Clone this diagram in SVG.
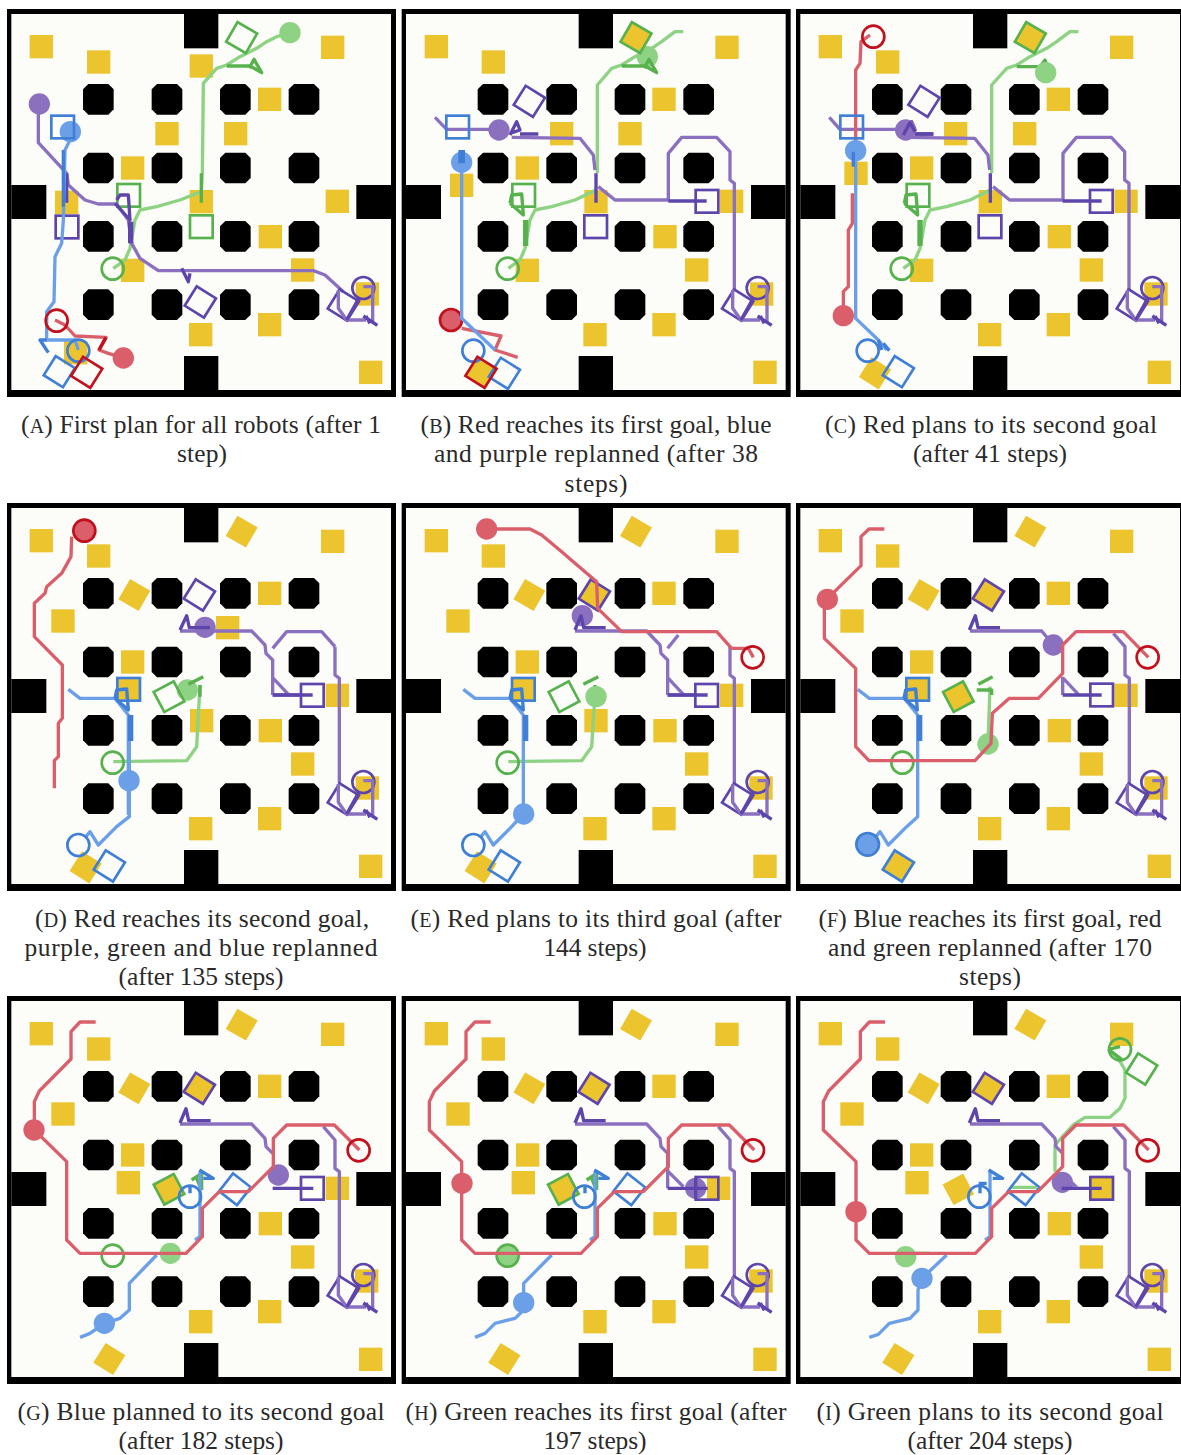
<svg xmlns="http://www.w3.org/2000/svg" width="1181" height="1455" viewBox="0 0 1181 1455">
<style>
text{font-family:"Liberation Serif","Times New Roman",serif;font-size:25.5px;fill:#2a2a2a;text-anchor:middle}
.sc{font-size:20px}
.k{fill:#000}
.y{fill:#ebc42e}
path{fill:none;stroke-linejoin:round;stroke-linecap:butt}
.gl{stroke:#8ed284;stroke-width:10}
.gd{stroke:#57b24e;stroke-width:10}
.pl{stroke:#8b70c0;stroke-width:10}
.pd{stroke:#5e45ab;stroke-width:10}
.bl{stroke:#6ba0e9;stroke-width:10}
.bd{stroke:#3f7fd6;stroke-width:10}
.rl{stroke:#da5f6b;stroke-width:10}
.rd{stroke:#c2101c;stroke-width:10}
.th{stroke-width:16}
.Og{fill:none;stroke:#57b24e;stroke-width:8}
.Op{fill:none;stroke:#5e45ab;stroke-width:8}
.Ob{fill:none;stroke:#3f7fd6;stroke-width:8}
.Or{fill:none;stroke:#c2101c;stroke-width:8}
.Fg{fill:#8ed284}.Fp{fill:#8b70c0}.Fb{fill:#6ba0e9}.Fr{fill:#da5f6b}
</style>
<defs>
<rect id="s" x="-35" y="-35" width="70" height="70"/>
<rect id="t" x="-34" y="-34" width="68" height="68"/>
<polygon id="oct" points="-30,-46 30,-46 46,-30 46,30 30,46 -30,46 -46,30 -46,-30"/>
<g id="map">
<rect x="21" y="27" width="1167" height="1164" fill="#000"/>
<rect x="34" y="42" width="1139" height="1128" fill="#fcfcf9"/>
<rect class="k" x="552" y="42" width="103" height="103"/>
<rect class="k" x="34" y="555" width="105" height="102"/>
<rect class="k" x="1069" y="555" width="104" height="102"/>
<rect class="k" x="552" y="1068" width="103" height="102"/>
<g class="k">
<use href="#oct" x="295" y="298"/><use href="#oct" x="501" y="298"/><use href="#oct" x="706" y="298"/><use href="#oct" x="912" y="298"/>
<use href="#oct" x="295" y="504"/><use href="#oct" x="501" y="504"/><use href="#oct" x="706" y="504"/><use href="#oct" x="912" y="504"/>
<use href="#oct" x="295" y="709"/><use href="#oct" x="501" y="709"/><use href="#oct" x="706" y="709"/><use href="#oct" x="912" y="709"/>
<use href="#oct" x="295" y="914"/><use href="#oct" x="501" y="914"/><use href="#oct" x="706" y="914"/><use href="#oct" x="912" y="914"/>
</g>
</g>
<g id="cluster">
<use href="#t" class="Op" transform="translate(1030 915) rotate(32)"/>
<circle class="Op" cx="1090" cy="864" r="33"/>
<path class="pl" d="M1015 870V925L1040 960H1098M1118 965V860H1090"/>
<path class="pd" d="M1040 960L1078 892M1098 948L1110 970M1090 948L1132 976"/>
</g>
<path id="greenA" class="gl" d="M870 98L830 110L800 125L770 145L720 170L680 195L650 205L610 250L607 520L604 575L540 600L470 620L420 630L405 660L390 745L375 780L340 805"/>
<path id="purpleB" class="pl" d="M350 412L555 415L595 465L600 510M610 560L660 600L820 600V460L860 412H965L1005 455V540L1018 550V870"/>
<path id="blueD" class="bl" d="M205 583L240 610H345L385 660V960"/>
<g id="blueLoop"><path class="bd" d="M345 610L350 585L380 582L385 645L345 610"/><path class="bd th" d="M392 660V738"/></g>
<g id="greenLoop"><path class="gd" d="M345 610L350 585L380 582L385 645L345 610"/><path class="gd th" d="M392 660V738"/></g>
<path id="purpleD" class="pl" d="M540 408H755L795 450L798 475L818 495V600M820 550L865 598M818 600H900M1005 455V540L1018 550V865"/>
<path id="purpleHook" class="pd" d="M540 405L558 362L566 398H632"/>
<path id="redF" class="rl" d="M283 102H237L213 125V212L103 320V430L197 520V755L237 797H555L603 745L607 655L658 610H745L818 535V450L858 410H1000L1075 487"/>
</defs>

<g id="panel-a" transform="translate(0 0) scale(.33333)">
<use href="#map"/>
<g class="y"><use href="#s" x="124" y="140"/><use href="#s" x="296" y="186"/><use href="#s" x="604" y="198"/><use href="#s" x="998" y="142"/><use href="#s" x="809" y="298"/><use href="#s" x="501" y="401"/><use href="#s" x="707" y="401"/><use href="#s" x="398" y="504"/><use href="#s" x="200" y="607"/><use href="#s" x="604" y="605"/><use href="#s" x="1012" y="604"/><use href="#s" x="811" y="710"/><use href="#s" x="398" y="811"/><use href="#s" x="908" y="810"/><use href="#s" x="1102" y="882"/><use href="#s" x="809" y="974"/><use href="#s" x="602" y="1004"/><use href="#s" x="1112" y="1117"/><use href="#s" x="227" y="1058"/></g>
<use href="#greenA"/>
<circle class="Fg" cx="870" cy="98" r="32"/>
<path class="gd" d="M680 198H750L785 218L762 178L748 205M604 520V608"/>
<use href="#t" class="Og" transform="translate(725 113) rotate(30)"/><use href="#t" class="Og" x="386" y="586"/><use href="#t" class="Og" x="604" y="680"/><circle class="Og" cx="338" cy="806" r="33"/>
<path class="pl" d="M115 340V428L200 520L205 555L255 600L295 612H350L385 660L395 730L420 775L475 812H940L975 825L1030 875"/>
<path class="pd" d="M200 520V608M350 600L360 585L385 585L390 660L345 610M545 805L565 845L570 820"/>
<path class="pd th" d="M392 665V730"/>
<use href="#cluster"/>
<circle class="Fp" cx="118" cy="312" r="32"/>
<use href="#t" class="Op" x="201" y="681"/><use href="#t" class="Op" transform="translate(601 906) rotate(32)"/>
<circle class="Fb" cx="211" cy="395" r="32"/>
<path class="bl" d="M210 420L195 450L190 660L185 730L165 770L162 905L140 935V1020H225L235 1050"/>
<path class="bd" d="M190 450V620M140 1020H120L145 1058"/>
<use href="#t" class="Ob" x="188" y="381"/><use href="#t" class="Ob" transform="translate(178 1115) rotate(32)"/><circle class="Ob" cx="235" cy="1052" r="33"/>
<path class="rl" d="M370 1074L325 1060L297 1050L318 1012L225 1008L195 975L165 960"/>
<path class="rd" d="M318 1012L297 1050"/>
<circle class="Fr" cx="370" cy="1074" r="32"/>
<circle class="Or" cx="170" cy="962" r="33"/><use href="#t" class="Or" transform="translate(260 1117) rotate(32)"/>
</g>

<g id="panel-b" transform="translate(395 0) scale(.33333)">
<use href="#map" x="-1"/>
<g class="y"><use href="#s" x="124" y="140"/><use href="#s" x="295" y="186"/><use href="#s" x="996" y="142"/><use href="#s" x="807" y="298"/><use href="#s" x="705" y="401"/><use href="#s" x="500" y="401"/><use href="#s" x="397" y="504"/><use href="#s" x="200" y="556"/><use href="#s" x="603" y="605"/><use href="#s" x="1010" y="604"/><use href="#s" x="810" y="710"/><use href="#s" x="905" y="810"/><use href="#s" x="1100" y="882"/><use href="#s" x="807" y="974"/><use href="#s" x="600" y="1004"/><use href="#s" x="1110" y="1117"/><use href="#s" x="397" y="811"/><use href="#s" transform="translate(723 113) rotate(30)"/><use href="#s" transform="translate(258 1117) rotate(32)"/></g>
<circle class="Fg" cx="757" cy="170" r="32"/>
<path class="gl" d="M865 95H840L800 125L770 145L720 170L680 195L650 205L607 255V520M603 570L540 600L470 620L420 630L405 660L390 745L375 780L340 805"/>
<path class="gd" d="M680 198H750L785 218L762 178L748 205"/>
<use href="#greenLoop"/>
<use href="#t" class="Og" transform="translate(723 113) rotate(30)"/><use href="#t" class="Og" x="386" y="586"/><circle class="Og" cx="338" cy="806" r="33"/>
<use href="#purpleB"/><use href="#cluster" x="-2"/>
<path class="pl" d="M120 352L155 388H312"/>
<path class="pd" d="M345 405L365 365L375 390L345 400M375 402H430M603 520V608M820 603H935"/>
<circle class="Fp" cx="312" cy="390" r="32"/>
<use href="#t" class="Op" x="936" y="604"/><use href="#t" class="Op" x="602" y="680"/><use href="#t" class="Op" transform="translate(403 304) rotate(32)"/>
<path class="rl" d="M200 985L318 1008L300 1050L368 1072"/>
<circle class="Fr" cx="168" cy="960" r="33"/><circle class="Or" cx="168" cy="960" r="33"/>
<circle class="Fb" cx="200" cy="487" r="32"/>
<path class="bl" d="M200 500V955L300 1050"/>
<path class="bd" d="M195 450V490M205 450V490"/>
<use href="#t" class="Ob" x="188" y="381"/><use href="#t" class="Ob" transform="translate(328 1120) rotate(32)"/><circle class="Ob" cx="235" cy="1052" r="33"/>
<use href="#t" class="Or" transform="translate(258 1117) rotate(32)"/>
</g>

<g id="panel-c" transform="translate(790 0) scale(.33333)">
<use href="#map" x="-3"/>
<g class="y"><use href="#s" x="121" y="140"/><use href="#s" x="293" y="186"/><use href="#s" x="995" y="142"/><use href="#s" x="805" y="298"/><use href="#s" x="704" y="401"/><use href="#s" x="497" y="401"/><use href="#s" x="395" y="504"/><use href="#s" x="198" y="520"/><use href="#s" x="601" y="605"/><use href="#s" x="1008" y="604"/><use href="#s" x="808" y="710"/><use href="#s" x="904" y="810"/><use href="#s" x="1098" y="882"/><use href="#s" x="805" y="974"/><use href="#s" x="599" y="1004"/><use href="#s" x="1108" y="1117"/><use href="#s" x="395" y="811"/><use href="#s" transform="translate(721 113) rotate(30)"/><use href="#s" transform="translate(255 1120) rotate(32)"/></g>
<path class="gl" d="M865 95H840L800 125L770 145L720 170L680 195L650 205L605 255V520M601 570L540 600L470 620L420 630L405 660L390 745L375 780L340 805"/>
<path class="gd" d="M680 200H750L765 180L778 215"/>
<circle class="Fg" cx="767" cy="218" r="32"/>
<use href="#greenLoop" x="-2"/>
<use href="#t" class="Og" transform="translate(721 113) rotate(30)"/><use href="#t" class="Og" x="384" y="586"/><circle class="Og" cx="335" cy="806" r="33"/>
<use href="#purpleB" x="-1"/><use href="#cluster" x="-3"/>
<path class="pl" d="M118 352L150 388H345"/>
<path class="pd" d="M345 405L365 365L375 390L345 400M375 402H430M601 520V608M818 603H935"/>
<circle class="Fp" cx="347" cy="390" r="32"/>
<path class="pd" d="M340 405L360 368L375 395M375 402H430"/>
<use href="#t" class="Op" x="934" y="604"/><use href="#t" class="Op" x="600" y="680"/><use href="#t" class="Op" transform="translate(402 304) rotate(32)"/>
<path class="rl" d="M240 105L213 125L210 190L197 210V450M187 580V670L175 690V860L160 875V945"/>
<circle class="Fr" cx="160" cy="947" r="32"/>
<circle class="Or" cx="250" cy="110" r="33"/>
<circle class="Fb" cx="197" cy="452" r="32"/>
<path class="bl" d="M197 480V955L265 1020L290 1050"/>
<path class="bd" d="M190 455V500M265 1020L275 1050M280 1030L298 1052"/>
<use href="#t" class="Ob" x="185" y="381"/><use href="#t" class="Ob" transform="translate(325 1115) rotate(32)"/><circle class="Ob" cx="233" cy="1052" r="33"/>
</g>

<g id="panel-d" transform="translate(0 495) scale(.33333)">
<use href="#map" y="-3"/>
<g class="y"><use href="#s" x="124" y="137"/><use href="#s" x="296" y="183"/><use href="#s" x="998" y="139"/><use href="#s" x="809" y="295"/><use href="#s" x="189" y="378"/><use href="#s" x="683" y="398"/><use href="#s" x="398" y="501"/><use href="#s" x="605" y="677"/><use href="#s" x="1012" y="601"/><use href="#s" x="811" y="707"/><use href="#s" x="908" y="807"/><use href="#s" x="1102" y="879"/><use href="#s" x="809" y="971"/><use href="#s" x="602" y="1001"/><use href="#s" x="1112" y="1114"/><use href="#s" x="386" y="583"/><use href="#s" transform="translate(725 110) rotate(30)"/><use href="#s" transform="translate(403 300) rotate(30)"/><use href="#s" transform="translate(257 1117) rotate(32)"/></g>
<path class="rl" d="M215 125L213 185L185 235L140 275L135 295L103 325V425L187 510V670L175 685V785L163 797V880"/>
<circle class="Fr" cx="253" cy="107" r="33"/><circle class="Or" cx="253" cy="107" r="33"/>
<use href="#purpleD"/><use href="#cluster" y="-3"/>
<path class="pl" d="M818 460L860 410H965L1005 455"/>
<circle class="Fp" cx="615" cy="397" r="32"/>
<path class="pd" d="M540 405L560 362L568 398H630M818 600H938"/>
<use href="#t" class="Op" x="937" y="601"/><use href="#t" class="Op" transform="translate(598 300) rotate(32)"/>
<circle class="Fg" cx="562" cy="585" r="32"/>
<path class="gl" d="M340 800L560 797L590 755L600 570"/>
<path class="gd" d="M565 568L610 545M600 570V605"/>
<use href="#t" class="Og" transform="translate(507 605) rotate(-28)"/><circle class="Og" cx="338" cy="803" r="33"/>
<use href="#blueD"/><path class="bl" d="M388 660V965L350 995L295 1050L270 1010L258 1025"/>
<use href="#blueLoop"/>
<circle class="Fb" cx="387" cy="857" r="32"/>
<use href="#t" class="Ob" x="386" y="583"/><use href="#t" class="Ob" transform="translate(328 1113) rotate(32)"/><circle class="Ob" cx="235" cy="1050" r="33"/>
</g>

<g id="panel-e" transform="translate(395 495) scale(.33333)">
<use href="#map" x="-1" y="-3"/>
<g class="y"><use href="#s" x="124" y="137"/><use href="#s" x="295" y="183"/><use href="#s" x="996" y="139"/><use href="#s" x="807" y="295"/><use href="#s" x="189" y="378"/><use href="#s" x="397" y="501"/><use href="#s" x="603" y="677"/><use href="#s" x="1010" y="601"/><use href="#s" x="810" y="707"/><use href="#s" x="905" y="807"/><use href="#s" x="1098" y="879"/><use href="#s" x="807" y="971"/><use href="#s" x="600" y="1001"/><use href="#s" x="1110" y="1114"/><use href="#s" x="385" y="583"/><use href="#s" transform="translate(723 110) rotate(30)"/><use href="#s" transform="translate(403 300) rotate(30)"/><use href="#s" transform="translate(257 1117) rotate(32)"/><use href="#s" transform="translate(597 300) rotate(32)"/></g>
<use href="#purpleD"/><use href="#cluster" x="-2" y="-3"/>
<path class="pl" d="M818 460L850 420"/>
<circle class="Fp" cx="562" cy="362" r="32"/>
<use href="#purpleHook"/>
<path class="pd" d="M818 600H938"/>
<use href="#t" class="Op" x="935" y="601"/><use href="#t" class="Op" transform="translate(598 300) rotate(32)"/>
<path class="rl" d="M275 102H405L440 120L500 170L540 205L605 260L608 340L680 410H965L1010 460H1060L1075 487"/>
<circle class="Fr" cx="275" cy="102" r="32"/>
<circle class="Or" cx="1073" cy="487" r="33"/>
<path class="gl" d="M340 800L560 797L590 755L600 600"/>
<path class="gd" d="M565 568L610 545M600 570V605"/>
<circle class="Fg" cx="603" cy="605" r="32"/>
<use href="#t" class="Og" transform="translate(507 605) rotate(-28)"/><circle class="Og" cx="338" cy="803" r="33"/>
<path class="bl" d="M205 583L240 610H345L385 660V957L350 995L295 1050L270 1010L258 1025"/>
<use href="#blueLoop"/>
<circle class="Fb" cx="386" cy="957" r="32"/>
<use href="#t" class="Ob" x="385" y="583"/><use href="#t" class="Ob" transform="translate(328 1113) rotate(32)"/><circle class="Ob" cx="235" cy="1050" r="33"/>
</g>

<g id="panel-f" transform="translate(790 495) scale(.33333)">
<use href="#map" x="-3" y="-3"/>
<g class="y"><use href="#s" x="121" y="137"/><use href="#s" x="293" y="183"/><use href="#s" x="995" y="139"/><use href="#s" x="805" y="295"/><use href="#s" x="186" y="378"/><use href="#s" x="395" y="501"/><use href="#s" x="808" y="707"/><use href="#s" x="904" y="807"/><use href="#s" x="1098" y="879"/><use href="#s" x="805" y="971"/><use href="#s" x="599" y="1001"/><use href="#s" x="1108" y="1114"/><use href="#s" x="383" y="583"/><use href="#s" x="1008" y="601"/><use href="#s" transform="translate(721 110) rotate(30)"/><use href="#s" transform="translate(401 300) rotate(30)"/><use href="#s" transform="translate(595 300) rotate(32)"/><use href="#s" transform="translate(505 605) rotate(-28)"/><use href="#s" transform="translate(325 1113) rotate(32)"/></g>
<path class="bl" d="M203 583L238 610H343L383 660V965L350 995L295 1050L270 1010L258 1025"/>
<use href="#blueLoop" x="-3"/>
<use href="#t" class="Ob" x="383" y="583"/><use href="#t" class="Ob" transform="translate(325 1113) rotate(32)"/>
<circle class="Fb" cx="233" cy="1048" r="34"/><circle class="Ob" cx="233" cy="1048" r="34"/>
<path class="pl" d="M540 408H755L790 450M818 545V600M820 550L865 598M970 415L1005 455V540L1018 550V865"/>
<use href="#cluster" x="-3" y="-3"/>
<use href="#purpleHook" x="-2"/>
<path class="pd" d="M818 600H935"/>
<circle class="Fp" cx="790" cy="450" r="32"/>
<use href="#t" class="Op" x="935" y="600"/><use href="#t" class="Op" transform="translate(595 300) rotate(32)"/>
<path class="gl" d="M594 747L600 575"/>
<path class="gd" d="M565 568L608 545M560 585H605V600"/>
<circle class="Fg" cx="594" cy="747" r="32"/>
<circle class="Og" cx="337" cy="803" r="33"/><use href="#t" class="Og" transform="translate(505 605) rotate(-28)"/>
<use href="#redF"/>
<circle class="Fr" cx="112" cy="313" r="32"/>
<circle class="Or" cx="1073" cy="487" r="33"/>
</g>

<g id="panel-g" transform="translate(0 990) scale(.33333)">
<use href="#map" y="-9"/>
<g class="y"><use href="#s" x="124" y="131"/><use href="#s" x="296" y="177"/><use href="#s" x="998" y="133"/><use href="#s" x="809" y="289"/><use href="#s" x="189" y="372"/><use href="#s" x="398" y="495"/><use href="#s" x="385" y="578"/><use href="#s" x="1012" y="595"/><use href="#s" x="811" y="701"/><use href="#s" x="908" y="801"/><use href="#s" x="1100" y="873"/><use href="#s" x="809" y="965"/><use href="#s" x="602" y="995"/><use href="#s" x="1112" y="1108"/><use href="#s" transform="translate(725 104) rotate(30)"/><use href="#s" transform="translate(403 295) rotate(30)"/><use href="#s" transform="translate(598 295) rotate(32)"/><use href="#s" transform="translate(507 598) rotate(-28)"/><use href="#s" transform="translate(328 1107) rotate(32)"/></g>
<path class="gd" d="M575 570L605 550V600M590 565L600 590"/>
<path class="pl" d="M540 402H755L795 445L798 470L818 490M970 410L1005 450V535L1018 545V860"/>
<use href="#cluster" y="-9"/>
<use href="#purpleHook" y="-6"/>
<path class="pd" d="M818 595H940"/>
<use href="#t" class="Op" x="937" y="595"/><use href="#t" class="Op" transform="translate(598 295) rotate(32)"/>
<circle class="Fp" cx="835" cy="555" r="32"/>
<use href="#t" class="Og" transform="translate(507 598) rotate(-28)"/><circle class="Og" cx="338" cy="797" r="33"/>
<circle class="Fg" cx="511" cy="790" r="32"/>
<path class="bl" d="M240 1042L270 1030L313 1000L360 985L388 960V880L470 795M585 750L600 740V545"/>
<path class="bd" d="M570 585V610M598 540L640 565H610"/>
<circle class="Fb" cx="313" cy="1000" r="32"/>
<circle class="Ob" cx="570" cy="620" r="33"/><use href="#t" class="Ob" transform="translate(705 598) rotate(38)"/>
<path class="rl" d="M287 96H240L213 125V207L118 303L103 335V420L200 515V750L240 790H558L607 740V655L658 605H745L820 530V445L860 405H1003L1078 480"/>
<circle class="Fr" cx="102" cy="420" r="32"/>
<circle class="Or" cx="1076" cy="481" r="33"/>
</g>

<g id="panel-h" transform="translate(395 990) scale(.33333)">
<use href="#map" x="-1" y="-9"/>
<g class="y"><use href="#s" x="124" y="131"/><use href="#s" x="295" y="177"/><use href="#s" x="996" y="133"/><use href="#s" x="807" y="289"/><use href="#s" x="189" y="372"/><use href="#s" x="398" y="495"/><use href="#s" x="385" y="578"/><use href="#s" x="971" y="595"/><use href="#s" x="810" y="701"/><use href="#s" x="905" y="801"/><use href="#s" x="1098" y="873"/><use href="#s" x="807" y="965"/><use href="#s" x="600" y="995"/><use href="#s" x="1110" y="1108"/><use href="#s" transform="translate(723 104) rotate(30)"/><use href="#s" transform="translate(403 295) rotate(30)"/><use href="#s" transform="translate(597 295) rotate(32)"/><use href="#s" transform="translate(505 598) rotate(-28)"/><use href="#s" transform="translate(328 1107) rotate(32)"/></g>
<path class="gd" d="M575 570L605 550V600M590 565L600 590"/>
<path class="pl" d="M540 402H755L795 445L798 470L818 490V595M820 545L865 590M970 410L1005 450V535L1018 545V860"/>
<use href="#cluster" x="-2" y="-9"/>
<use href="#purpleHook" y="-6"/>
<circle class="Fp" cx="902" cy="595" r="32"/>
<path class="pd" d="M818 595H938M902 565V625"/>
<use href="#t" class="Op" x="936" y="595"/><use href="#t" class="Op" transform="translate(597 295) rotate(32)"/>
<use href="#t" class="Og" transform="translate(505 598) rotate(-28)"/>
<circle class="Fg" cx="338" cy="797" r="33"/><circle class="Og" cx="338" cy="797" r="33"/>
<path class="bl" d="M240 1042L270 1030L300 1000L360 985L386 960V880L470 795M585 750L600 740V545"/>
<path class="bd" d="M570 585V610M598 540L640 565H610"/>
<circle class="Fb" cx="386" cy="938" r="32"/>
<circle class="Ob" cx="568" cy="620" r="33"/><use href="#t" class="Ob" transform="translate(703 598) rotate(38)"/>
<path class="rl" d="M287 96H240L213 125V207L118 303L103 335V420L200 515V750L240 790H558L607 740V655L658 605H745L820 530V445L860 405H1003L1078 480"/>
<circle class="Fr" cx="201" cy="580" r="32"/>
<circle class="Or" cx="1074" cy="481" r="33"/>
</g>

<g id="panel-i" transform="translate(790 990) scale(.33333)">
<use href="#map" x="-3" y="-9"/>
<g class="y"><use href="#s" x="121" y="131"/><use href="#s" x="293" y="177"/><use href="#s" x="995" y="133"/><use href="#s" x="805" y="289"/><use href="#s" x="186" y="372"/><use href="#s" x="395" y="495"/><use href="#s" x="381" y="578"/><use href="#s" x="808" y="701"/><use href="#s" x="904" y="801"/><use href="#s" x="1098" y="873"/><use href="#s" x="805" y="965"/><use href="#s" x="599" y="995"/><use href="#s" x="1108" y="1108"/><use href="#s" x="935" y="595"/><use href="#s" transform="translate(721 104) rotate(30)"/><use href="#s" transform="translate(401 295) rotate(30)"/><use href="#s" transform="translate(595 295) rotate(32)"/><use href="#s" transform="translate(505 598) rotate(-28)"/><use href="#s" transform="translate(325 1107) rotate(32)"/></g>
<path class="gl" d="M955 178L985 205L1005 240V325L990 355L960 382H885L850 405L795 465V545M660 592H740M375 790H420"/>
<path class="gd" d="M955 178L990 170M955 178L995 208"/>
<circle class="Og" cx="990" cy="178" r="33"/><use href="#t" class="Og" transform="translate(1055 237) rotate(32)"/>
<circle class="Fg" cx="347" cy="800" r="32"/>
<path class="pl" d="M540 402H755L795 445L798 470L818 490M970 410L1005 450V535L1018 545V860"/>
<use href="#cluster" x="-3" y="-9"/>
<use href="#purpleHook" x="-2" y="-6"/>
<circle class="Fp" cx="817" cy="577" r="32"/>
<path class="Fp" d="M820 545L865 590H820Z" stroke="none"/>
<path class="pd" d="M815 595H935"/>
<use href="#t" class="Op" x="935" y="595"/><use href="#t" class="Op" transform="translate(595 295) rotate(32)"/>
<path class="bl" d="M238 1042L265 1033L298 1000L360 985L384 960V900L396 865L470 795M585 750L600 740V545"/>
<path class="bd" d="M570 585V610M596 540L638 565H608M566 580H590"/>
<circle class="Fb" cx="396" cy="865" r="32"/>
<circle class="Ob" cx="568" cy="620" r="33"/><use href="#t" class="Ob" transform="translate(701 598) rotate(38)"/>
<path class="rl" d="M285 96H238L211 125V207L116 303L100 335V420L198 515V750L238 790H556L605 740V655L656 605H743L818 530V445L858 405H1001L1076 480"/>
<circle class="Fr" cx="198" cy="665" r="32"/>
<circle class="Or" cx="1073" cy="481" r="33"/>
</g>

<g id="captions">
<text x="201" y="433" textLength="360">(<tspan class="sc">A</tspan>) First plan for all robots (after 1</text>
<text x="202" y="462" textLength="50">step)</text>
<text x="596" y="433" textLength="351">(<tspan class="sc">B</tspan>) Red reaches its first goal, blue</text>
<text x="596" y="462" textLength="324">and purple replanned (after 38</text>
<text x="596" y="492" textLength="63">steps)</text>
<text x="991" y="433" textLength="332">(<tspan class="sc">C</tspan>) Red plans to its second goal</text>
<text x="990" y="462" textLength="154">(after 41 steps)</text>
<text x="202" y="927" textLength="334">(<tspan class="sc">D</tspan>) Red reaches its second goal,</text>
<text x="201" y="956" textLength="353">purple, green and blue replanned</text>
<text x="201" y="985" textLength="165">(after 135 steps)</text>
<text x="596" y="927" textLength="371">(<tspan class="sc">E</tspan>) Red plans to its third goal (after</text>
<text x="595" y="956" textLength="103">144 steps)</text>
<text x="990" y="927" textLength="343">(<tspan class="sc">F</tspan>) Blue reaches its first goal, red</text>
<text x="990" y="956" textLength="324">and green replanned (after 170</text>
<text x="990" y="985" textLength="62">steps)</text>
<text x="201" y="1420" textLength="367">(<tspan class="sc">G</tspan>) Blue planned to its second goal</text>
<text x="201" y="1449" textLength="165">(after 182 steps)</text>
<text x="596" y="1420" textLength="381">(<tspan class="sc">H</tspan>) Green reaches its first goal (after</text>
<text x="595" y="1449" textLength="103">197 steps)</text>
<text x="990" y="1420" textLength="347">(<tspan class="sc">I</tspan>) Green plans to its second goal</text>
<text x="990" y="1449" textLength="165">(after 204 steps)</text>
</g>
</svg>
